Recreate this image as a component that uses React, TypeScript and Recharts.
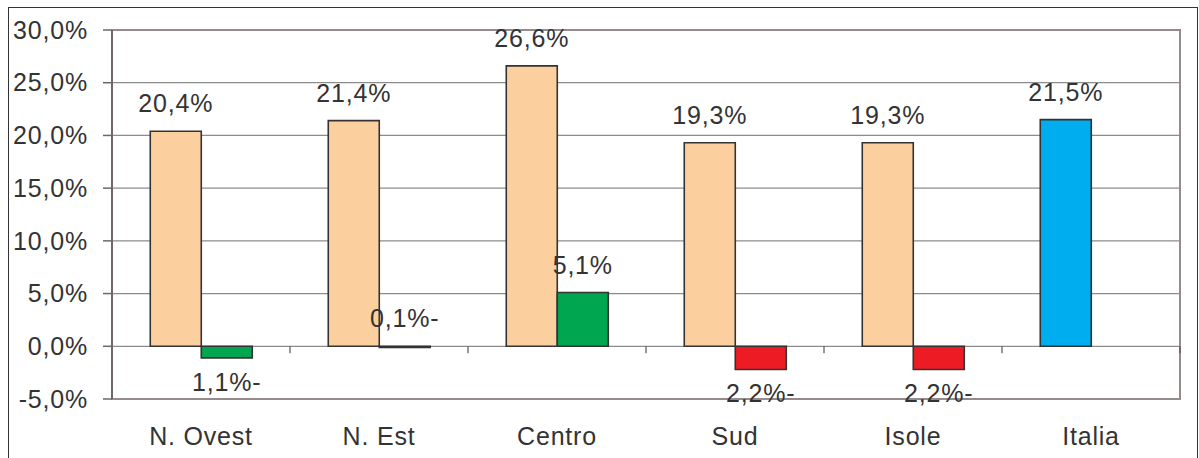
import React from "react"
import {
  Bar,
  BarChart,
  CartesianGrid,
  Cell,
  LabelList,
  ReferenceArea,
  ReferenceLine,
  XAxis,
  YAxis,
} from "recharts"

// Ripartizioni territoriali e valori (%)
const AREE = ["N. Ovest", "N. Est", "Centro", "Sud", "Isole", "Italia"]
const QUOTA = [20.4, 21.4, 26.6, 19.3, 19.3, 21.5]
const VARIAZIONE: (number | null)[] = [-1.1, -0.1, 5.1, -2.2, -2.2, null]
const Y_TICKS = [-5, 0, 5, 10, 15, 20, 25, 30]

const QUOTA_COLORS = ["#fcd09e", "#fcd09e", "#fcd09e", "#fcd09e", "#fcd09e", "#00aeef"]
const VAR_COLORS = ["#00a650", "#00a650", "#00a650", "#ed1c24", "#ed1c24", "#ffffff"]

const data = AREE.map((name, i) => ({
  name,
  quota: QUOTA[i],
  variazione: VARIAZIONE[i],
}))

const FONT = '"Liberation Sans", Arial, sans-serif'
const TEXT_COLOR = "#333333"

const fmt = (v: number) => Math.abs(v).toFixed(1).replace(".", ",")

const pctTick = (v: number) => `${v < 0 ? "-" : ""}${fmt(v)}%`

function YTick(props: any) {
  const { x, y, payload } = props
  return (
    <text
      x={x}
      y={y}
      dy="0.35em"
      textAnchor="end"
      fill={TEXT_COLOR}
      fontFamily={FONT}
      fontSize={25}
      letterSpacing={0.8}
    >
      {pctTick(payload.value)}
    </text>
  )
}

function XTick(props: any) {
  const { x, y, payload } = props
  return (
    <text
      x={x}
      y={y + 46}
      textAnchor="middle"
      fill={TEXT_COLOR}
      fontFamily={FONT}
      fontSize={25}
      letterSpacing={0.8}
    >
      {payload.value}
    </text>
  )
}

// etichetta sopra la barra, sotto solo per cali di almeno un punto
function ValueLabel(props: any) {
  const vb = props.viewBox ?? props
  const x = Number(vb.x ?? props.x)
  const y = Number(vb.y ?? props.y)
  const width = Number(vb.width ?? props.width)
  const height = Number(vb.height ?? props.height)
  if (props.value == null || isNaN(x)) return null
  const value = Number(props.value)
  const top = Math.min(y, y + height)
  const bottom = Math.max(y, y + height)
  const below = value <= -1
  const text = value < 0 ? `${fmt(value)}%-` : `${fmt(value)}%`
  return (
    <text
      x={x + width / 2}
      y={below ? bottom + 33 : top - 19}
      textAnchor="middle"
      fill={TEXT_COLOR}
      fontFamily={FONT}
      fontSize={25}
      letterSpacing={0.8}
    >
      {text}
    </text>
  )
}

export default function App() {
  return (
    <div
      style={{
        position: "absolute",
        left: 0,
        top: 0,
        width: 1199,
        height: 458,
        overflow: "hidden",
        background: "#ffffff",
      }}
    >
      <div
        style={{
          position: "absolute",
          left: 8,
          top: 7,
          width: 1190,
          height: 470,
          border: "1px solid #333333",
          boxSizing: "border-box",
        }}
      />
      <div style={{ position: "absolute", left: 0, top: 0 }}>
        <BarChart
          width={1199}
          height={458}
          data={data}
          margin={{ top: 30, right: 19, left: 0, bottom: 0 }}
          barCategoryGap="21.5%"
          barGap={0}
        >
          <CartesianGrid vertical={false} stroke="#8c8c8c" strokeWidth={1.2} />
          <ReferenceArea y1={-5} y2={30} fill="none" stroke="#968b8b" strokeWidth={2} />
          <XAxis
            dataKey="name"
            height={59}
            axisLine={false}
            tickLine={false}
            tickSize={0}
            tickMargin={0}
            interval={0}
            tick={<XTick />}
          />
          <YAxis
            width={112}
            domain={[-5, 30]}
            ticks={Y_TICKS}
            interval={0}
            axisLine={{ stroke: "#6f6767", strokeWidth: 2 }}
            tickLine={{ stroke: "#6f6767", strokeWidth: 1.5 }}
            tickSize={9}
            tickMargin={15}
            tick={<YTick />}
          />
          {AREE.map((a) => (
            <ReferenceLine
              key={a}
              position="end"
              segment={[
                { x: a, y: 0 },
                { x: a, y: -0.65 },
              ]}
              stroke="#555555"
              strokeWidth={1.2}
            />
          ))}
          <Bar dataKey="quota" stroke="#333333" strokeWidth={1.6} isAnimationActive={false}>
            {data.map((d, i) => (
              <Cell key={`q-${d.name}`} fill={QUOTA_COLORS[i]} />
            ))}
            <LabelList dataKey="quota" content={<ValueLabel />} />
          </Bar>
          <Bar dataKey="variazione" stroke="#333333" strokeWidth={1.6} isAnimationActive={false}>
            {data.map((d, i) => (
              <Cell key={`v-${d.name}`} fill={VAR_COLORS[i]} />
            ))}
            <LabelList dataKey="variazione" content={<ValueLabel />} />
          </Bar>
        </BarChart>
      </div>
    </div>
  )
}
